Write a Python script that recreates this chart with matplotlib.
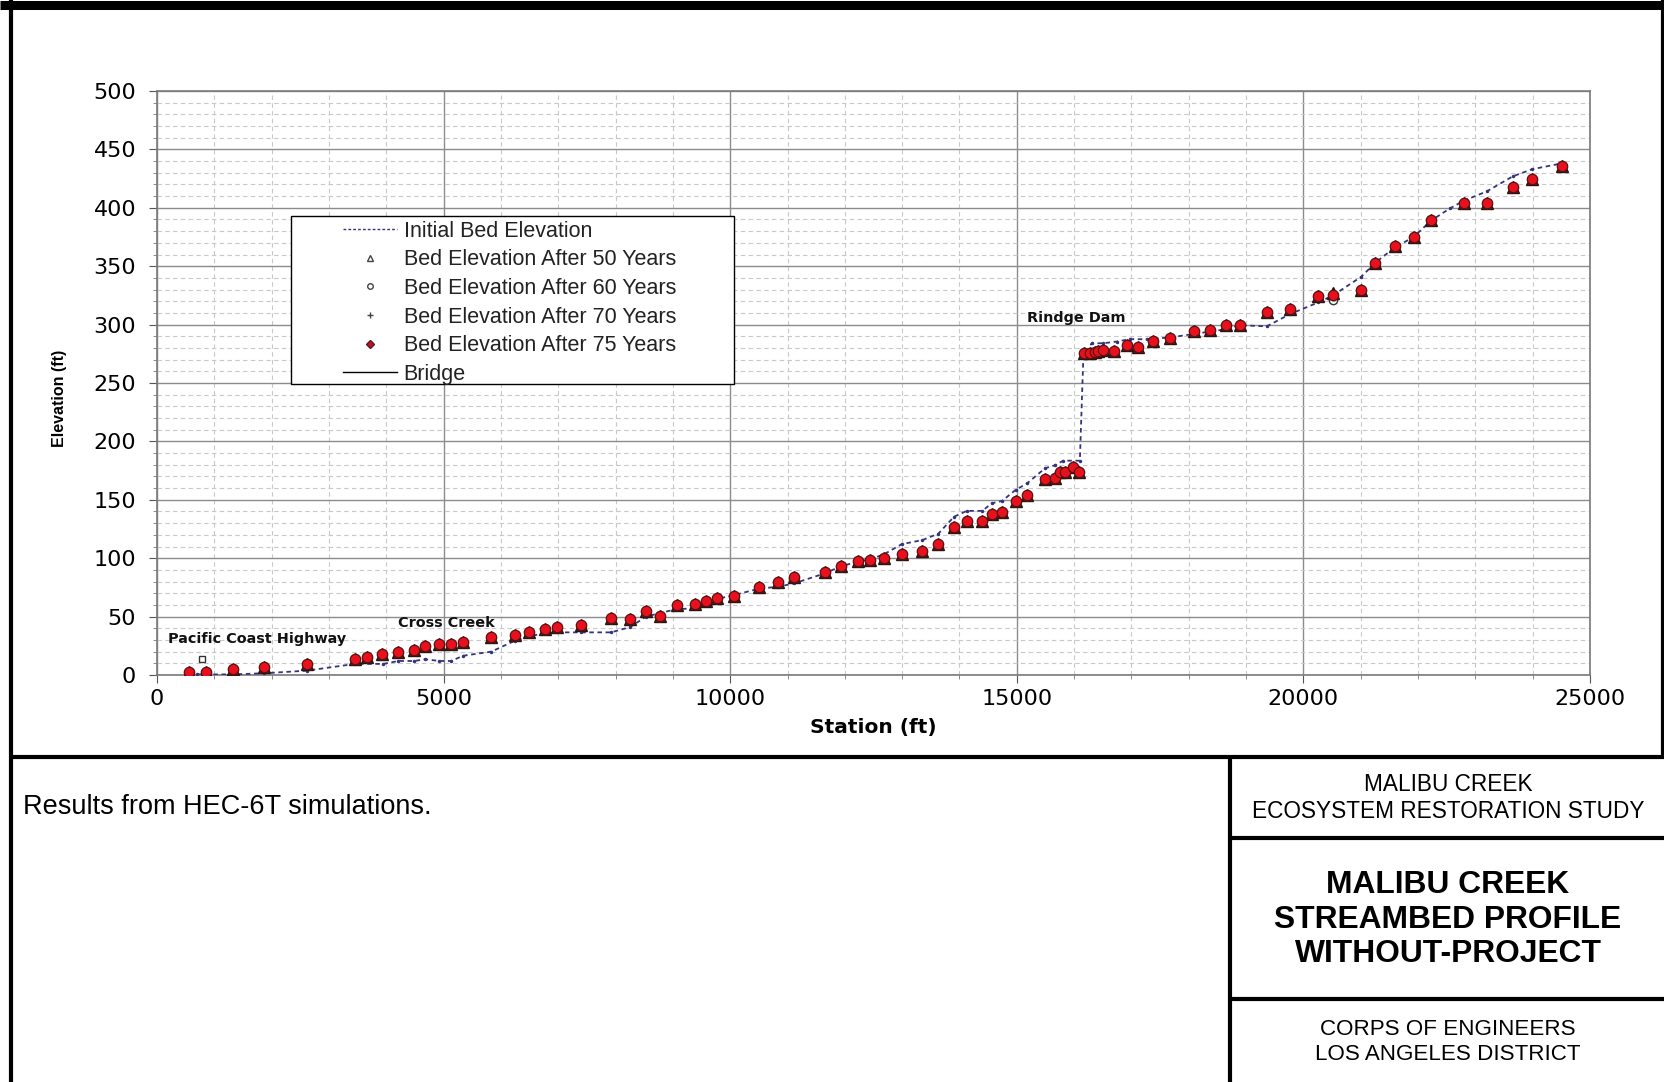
import matplotlib
matplotlib.use("Agg")
import matplotlib.pyplot as plt
from matplotlib.lines import Line2D
from matplotlib.patches import Rectangle
from matplotlib.ticker import MultipleLocator

# ---------------- data ----------------
station_init = [700, 1326, 1867, 2611, 3454, 3948, 4210, 4489, 4676, 4925, 5129, 5344,
                5833, 6251, 6495, 6764, 6984, 7397, 7921, 8252, 8531, 8770, 9072, 9386,
                9572, 9764, 10072, 10510, 10834, 11119, 11648, 11928, 12224, 12439, 12689,
                12991, 13352, 13631, 13905, 14126, 14399, 14562, 14742, 14980, 15178,
                15492, 15661, 15811, 16100, 16161, 16306, 16509, 16742, 16975, 17266,
                17673, 18091, 18644, 18894, 19360, 19766, 20260, 20517, 21010, 21255,
                21593, 21924, 22226, 22557, 22796, 23197, 23656, 23988, 24506]
elev_init = [0.5, 0.5, 1.5, 3.7, 9.5, 9.5, 12, 12, 13.5, 12, 12, 16.5,
             20, 29.5, 33, 36, 36.5, 36.5, 36.5, 41, 50, 53, 56.5, 57,
             61, 65, 68.5, 74, 75.5, 78.5, 87, 93, 97, 99, 103.5,
             112, 115.5, 121, 135.5, 140.5, 140.5, 147, 149, 158.5, 164,
             177, 179.5, 183.5, 183.5, 272.5, 284, 284, 285.5, 287.5, 287.5,
             289, 292, 296, 299.5, 298.5, 309, 319, 325, 341, 353,
             366, 375, 389, 399.5, 406, 414, 427, 433, 438]

station_pts = [564, 855, 1331, 1867, 2611, 3454, 3669, 3931, 4210, 4489,
               4676, 4925, 5129, 5344, 5833, 6251, 6495, 6764, 6984, 7397,
               7921, 8252, 8531, 8770, 9072, 9386, 9572, 9764, 10072, 10510,
               10834, 11119, 11648, 11928, 12224, 12439, 12689, 12991, 13352, 13631,
               13905, 14126, 14399, 14562, 14742, 14980, 15178, 15492, 15661, 15754,
               15841, 15975, 16090, 16167, 16277, 16364, 16422, 16498, 16701, 16923,
               17120, 17376, 17667, 18091, 18370, 18644, 18894, 19360, 19766, 20260,
               20517, 21010, 21255, 21593, 21924, 22226, 22796, 23197, 23656, 23988, 24506]
elev_75 = [2.5, 2.5, 5, 7, 9.5, 14, 15, 18, 20, 21.5,
           25, 26.5, 26.5, 28.5, 32.5, 34, 37, 39, 41, 42.5,
           48.5, 48, 54.5, 50.5, 60, 61, 63.5, 65.5, 68, 75.5,
           80, 83.5, 88.5, 93, 97.5, 98.5, 100, 103.5, 106.5, 112.5,
           127, 132, 132, 138, 139.5, 149, 154, 168, 168.5, 173.5,
           173.5, 178.5, 173.5, 275.5, 276, 276.5, 277, 278.5, 277, 282.5,
           281, 286, 288.5, 294.5, 295.5, 299.5, 300, 310.5, 313, 324.5,
           325, 330, 353, 367, 375, 389.5, 404.5, 404, 418, 425, 435.5]
elev_50 = [2.5, 2.5, 5, 7, 9.5, 14, 15, 18, 20, 21.5,
           25, 26.5, 26.5, 28.5, 32.5, 34, 37, 39, 41, 42.5,
           48.5, 48, 54.5, 50.5, 60, 61, 63.5, 65.5, 68, 75.5,
           80, 83.5, 88.5, 93, 97.5, 98.5, 100, 103.5, 106.5, 112.5,
           127, 132, 132, 138, 139.5, 149, 154, 168, 168.5, 173.5,
           173.5, 178.5, 173.5, 275.5, 276, 276.5, 277, 278.5, 277, 282.5,
           281, 286, 288.5, 294.5, 295.5, 299.5, 300, 310.5, 313, 324.5,
           327, 330, 353, 367, 375, 389.5, 404.5, 404, 418, 425, 435.5]
elev_60 = [2.0, 2.0, 4.5, 6.5, 9, 13.5, 14.5, 17.5, 19.5, 21,
           24.5, 26, 26, 28, 32, 33.5, 36.5, 38.5, 40.5, 42,
           48, 47.5, 54, 50, 59.5, 60.5, 63, 65, 67.5, 75,
           79.5, 83, 88, 92.5, 97, 98, 99.5, 103, 106, 112,
           126.5, 131.5, 131.5, 137.5, 139, 148.5, 153.5, 167.5, 168, 173,
           173, 178, 173, 275, 275.5, 276, 276.5, 278, 276.5, 282,
           280.5, 285.5, 288, 294, 295, 299, 299.5, 310, 312.5, 324,
           321, 329.5, 352.5, 366.5, 374.5, 389, 404, 403.5, 417.5, 424.5, 435]
elev_70 = [2.5, 2.5, 5, 7, 9.5, 14, 15, 18, 20, 21.5,
           25, 26.5, 26.5, 28.5, 32.5, 34, 37, 39, 41, 42.5,
           48.5, 48, 54.5, 50.5, 60, 61, 63.5, 65.5, 68, 75.5,
           80, 83.5, 88.5, 93, 97.5, 98.5, 100, 103.5, 106.5, 112.5,
           127, 132, 132, 138, 139.5, 149, 154, 168, 168.5, 173.5,
           173.5, 178.5, 173.5, 275.5, 276, 276.5, 277, 278.5, 277, 282.5,
           281, 286, 288.5, 294.5, 295.5, 299.5, 300, 310.5, 313, 324.5,
           325, 330, 353, 367, 375, 389.5, 404.5, 404, 418, 425, 435.5]
station_60_extra = [780]
elev_60_extra = [14]

note_labels = ["Pacific Coast Highway", "Cross Creek", "Rindge Dam"]
note_station = [190, 4205, 15180]
note_elev = [30.8, 44.5, 306]

x_ticks = [0, 5000, 10000, 15000, 20000, 25000]
y_ticks = [0, 50, 100, 150, 200, 250, 300, 350, 400, 450, 500]

# ---------------- figure ----------------
W, H = 1665, 1082
fig = plt.figure(figsize=(W / 100, H / 100), dpi=100)
fig.patch.set_facecolor("white")

def px(x, y):
    return x / W, 1 - y / H

ax = fig.add_axes([157 / W, 1 - 675 / H, (1590 - 157) / W, (675 - 91) / H])
ax.set_xlim(0, 25000)
ax.set_ylim(0, 500)
ax.set_xticks(x_ticks)
ax.set_yticks(y_ticks)
ax.xaxis.set_minor_locator(MultipleLocator(1000))
ax.yaxis.set_minor_locator(MultipleLocator(10))
ax.grid(which="major", color="#8c8c8c", linewidth=1.0, linestyle="-")
ax.grid(which="minor", color="#c8c8c8", linewidth=0.8, linestyle=(0, (4, 3)))
ax.set_axisbelow(True)
for s in ax.spines.values():
    s.set_color("#7a7a7a")
    s.set_linewidth(1.2)
ax.tick_params(which="major", direction="out", length=6, color="#555555",
               labelsize=16, pad=9)
ax.tick_params(which="minor", direction="out", length=3, color="#777777")
ax.tick_params(axis="x", which="major", pad=4)
for lab in ax.get_xticklabels() + ax.get_yticklabels():
    lab.set_family("DejaVu Sans")

navy = "#34347e"
ax.plot(station_init, elev_init, color=navy, linestyle=(0, (2.5, 2)), linewidth=1.3,
        marker=".", markersize=3, zorder=3)
ax.plot(station_pts, elev_50, linestyle="none", marker="^", markersize=8.5,
        markerfacecolor="#4a2418", markeredgecolor="#2a1410", zorder=4)
ax.plot(station_pts, elev_60, linestyle="none", marker="o", markersize=6,
        markerfacecolor="none", markeredgecolor="#333333", zorder=4)
ax.plot(station_60_extra, elev_60_extra, linestyle="none", marker="s", markersize=4.5,
        markerfacecolor="white", markeredgecolor="#333333", markeredgewidth=1, zorder=4)
ax.plot(station_pts, elev_70, linestyle="none", marker="+", markersize=6,
        color="#333333", zorder=4)
ax.plot(station_pts, elev_75, linestyle="none", marker="o", markersize=7.5,
        markerfacecolor="#e8101c", markeredgecolor="#5a1010", markeredgewidth=0.9, zorder=5)

for t, sx, sy in zip(note_labels, note_station, note_elev):
    ax.text(sx, sy, t, fontsize=10.4, fontweight="bold", family="DejaVu Sans",
            ha="left", va="center", color="#111111", zorder=6)

ax.set_xlabel("Station (ft)", fontsize=14.5, fontweight="bold", family="DejaVu Sans")
ax.xaxis.set_label_coords(0.5, -0.073)
ax.set_ylabel("Elevation (ft)", fontsize=11.5, fontweight="bold",
              family="Liberation Sans")
ax.yaxis.set_label_coords(-0.063, 0.474)

# legend box
ax.add_patch(Rectangle((0.0935, 0.498), 0.3095, 0.288, transform=ax.transAxes,
                       facecolor="white", edgecolor="black", linewidth=1.0, zorder=7))
handles = [
    Line2D([], [], color=navy, linestyle=(0, (2, 1.5)), linewidth=1.0),
    Line2D([], [], linestyle="none", marker="^", markersize=4.5,
           markerfacecolor="white", markeredgecolor="#444444"),
    Line2D([], [], linestyle="none", marker="o", markersize=4,
           markerfacecolor="white", markeredgecolor="#444444"),
    Line2D([], [], linestyle="none", marker="+", markersize=5, color="#444444"),
    Line2D([], [], linestyle="none", marker="D", markersize=4.5,
           markerfacecolor="#b0182a", markeredgecolor="#6a1020"),
    Line2D([], [], color="black", linewidth=1.0),
]
labels = ["Initial Bed Elevation", "Bed Elevation After 50 Years",
          "Bed Elevation After 60 Years", "Bed Elevation After 70 Years",
          "Bed Elevation After 75 Years", "Bridge"]
leg = ax.legend(handles, labels, loc="upper left", bbox_to_anchor=(0.118, 0.807),
                frameon=False, handlelength=2.5, handletextpad=0.3,
                labelspacing=0.35, borderpad=0.3,
                prop={"family": "Liberation Sans", "size": 15.5})
leg.set_zorder(8)
for txt in leg.get_texts():
    txt.set_color("#222222")

# ---------------- page frame ----------------
def hline(y, x0, x1, lw):
    fig.add_artist(Line2D([x0 / W, x1 / W], [1 - y / H, 1 - y / H], color="black",
                          linewidth=lw, transform=fig.transFigure, solid_capstyle="butt"))

def vline(x, y0, y1, lw):
    fig.add_artist(Line2D([x / W, x / W], [1 - y0 / H, 1 - y1 / H], color="black",
                          linewidth=lw, transform=fig.transFigure, solid_capstyle="butt"))

hline(4.5, 0, W, 6.5)
vline(11, 0, H, 3)
vline(1663, 0, 757, 3)
hline(757, 9, W, 3)
vline(1230, 757, H, 3)
hline(838, 1230, W, 3)
hline(999, 1230, W, 3)

fig.text(*px(23, 807), "Results from HEC-6T simulations.", fontsize=19.5,
         family="Liberation Sans", ha="left", va="center")
fig.text(*px(1448, 798), "MALIBU CREEK\nECOSYSTEM RESTORATION STUDY", fontsize=16.3,
         family="Liberation Sans", ha="center", va="center", linespacing=1.26)
fig.text(*px(1448, 919.5), "MALIBU CREEK\nSTREAMBED PROFILE\nWITHOUT-PROJECT", fontsize=22.9,
         fontweight="bold", family="Liberation Sans", ha="center", va="center",
         linespacing=1.2)
fig.text(*px(1448, 1042), "CORPS OF ENGINEERS\nLOS ANGELES DISTRICT", fontsize=16.1,
         family="Liberation Sans", ha="center", va="center", linespacing=1.26)

fig.savefig("out.png", dpi=100)
